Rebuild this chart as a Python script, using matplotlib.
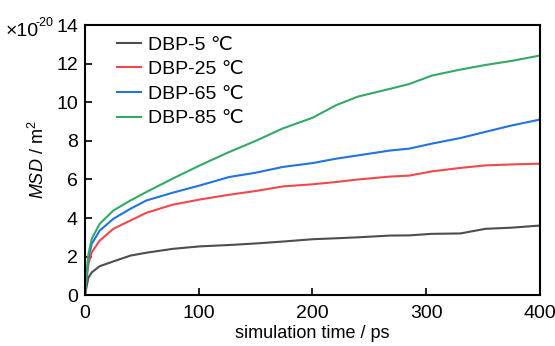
import matplotlib
matplotlib.use('Agg')
import matplotlib.pyplot as plt

# data ----------------------------------------------------------------------------------------
timePs = [0, 3, 6, 13, 25, 40, 54, 77, 101, 127, 150, 174, 200, 221, 240, 268, 285, 305, 330, 352, 375, 400]

msdDBP5 = [0, 0.9, 1.18, 1.5, 1.75, 2.05, 2.2, 2.4, 2.53, 2.6, 2.68, 2.78, 2.9, 2.95, 3.0, 3.09, 3.1,
           3.18, 3.2, 3.44, 3.5, 3.61]
msdDBP25 = [0, 1.6, 2.22, 2.83, 3.44, 3.87, 4.27, 4.69, 4.96, 5.21, 5.4, 5.64, 5.75, 5.87, 6.0, 6.15, 6.2,
            6.42, 6.6, 6.73, 6.78, 6.82]
msdDBP65 = [0, 1.9, 2.66, 3.35, 3.96, 4.48, 4.91, 5.31, 5.69, 6.13, 6.35, 6.65, 6.85, 7.08, 7.25, 7.5, 7.6,
            7.86, 8.15, 8.47, 8.8, 9.11]
msdDBP85 = [0, 2.1, 2.92, 3.7, 4.39, 4.91, 5.35, 6.04, 6.73, 7.43, 8.0, 8.65, 9.2, 9.86, 10.3, 10.7, 10.95,
            11.39, 11.7, 11.94, 12.15, 12.43]

seriesLabels = ['DBP-5 \u2103', 'DBP-25 \u2103', 'DBP-65 \u2103', 'DBP-85 \u2103']
seriesColors = ['#4d4d4d', '#f2484b', '#2272e0', '#33a966']
xTicks = [0, 100, 200, 300, 400]
yTicks = [0, 2, 4, 6, 8, 10, 12, 14]

# style ----------------------------------------------------------------------------------------
plt.rcParams['font.family'] = ['Liberation Sans', 'DejaVu Sans']
plt.rcParams['mathtext.fontset'] = 'custom'
plt.rcParams['mathtext.rm'] = 'Liberation Sans'
plt.rcParams['mathtext.it'] = 'Liberation Sans:italic'
plt.rcParams['font.size'] = 13

fig = plt.figure(figsize=(5.55, 3.46), dpi=100)
ax = fig.add_axes([0.153, 0.147, 0.820, 0.780])

for values, label, color in zip([msdDBP5, msdDBP25, msdDBP65, msdDBP85], seriesLabels, seriesColors):
    ax.plot(timePs, values, color=color, linewidth=1.5, label=label)

ax.set_xlim(0, 400)
ax.set_ylim(0, 14)
ax.set_xticks(xTicks)
ax.set_yticks(yTicks)
ax.tick_params(direction='in', length=5, width=1.2, labelsize=14)
ax.tick_params(axis='x', pad=7)
ax.tick_params(axis='y', pad=5)
for spine in ax.spines.values():
    spine.set_linewidth(1.5)

ax.set_xlabel('simulation time / ps', fontsize=13, labelpad=2)
ax.set_ylabel(r'$\mathit{MSD}$ / m$^2$', fontsize=13, labelpad=6)

# exponent label in the top-left corner
fig.text(6 / 555, 0.896, '\u00d710', fontsize=14, va='baseline', ha='left')
fig.text(36 / 555, 0.925, '-20', fontsize=9, va='baseline', ha='left')

ax.legend(loc='upper left', frameon=False, fontsize=14, handlelength=1.25, handletextpad=0.35,
          labelspacing=0.36, borderaxespad=0, bbox_to_anchor=(0.053, 0.989))

plt.savefig('out.png', dpi=100)
